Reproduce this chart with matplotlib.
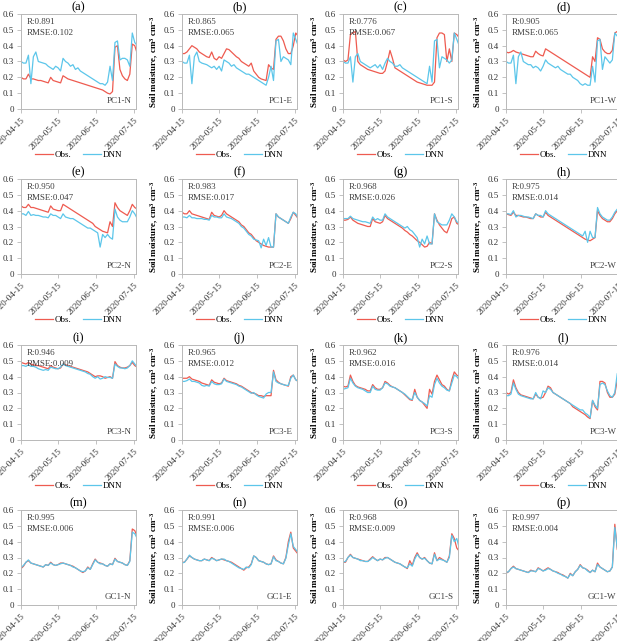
import matplotlib
matplotlib.use("Agg")
from matplotlib import pyplot as plt
from matplotlib.lines import Line2D
import matplotlib.dates as mdates
import matplotlib.ticker as mticker
import pandas as pd

# fonts: Times-like serif, bold mathtext for the y label superscripts
plt.rcParams['font.family'] = ['Liberation Serif', 'DejaVu Serif']
plt.rcParams['mathtext.fontset'] = 'custom'
plt.rcParams['mathtext.rm'] = 'Liberation Serif'
plt.rcParams['mathtext.bf'] = 'Liberation Serif:bold'
plt.rcParams['mathtext.default'] = 'bf'

# sampled every 2 days from 2020-04-15
dates = pd.date_range('2020-04-15', periods=48, freq='2D')

a_obs = [0.20, 0.19, 0.19, 0.22, 0.19, 0.19, 0.185, 0.18,
         0.18, 0.175, 0.17, 0.165, 0.20, 0.18, 0.175, 0.17,
         0.165, 0.21, 0.20, 0.19, 0.185, 0.18, 0.175, 0.17,
         0.165, 0.16, 0.155, 0.15, 0.145, 0.14, 0.135, 0.13,
         0.125, 0.12, 0.11, 0.10, 0.095, 0.11, 0.39, 0.40,
         0.25, 0.21, 0.19, 0.18, 0.22, 0.41, 0.40, 0.35]
a_dnn = [0.30, 0.29, 0.29, 0.34, 0.16, 0.33, 0.36, 0.30,
         0.295, 0.29, 0.285, 0.27, 0.26, 0.25, 0.27, 0.26,
         0.24, 0.32, 0.30, 0.29, 0.27, 0.28, 0.25, 0.26,
         0.24, 0.23, 0.22, 0.21, 0.20, 0.19, 0.18, 0.17,
         0.16, 0.16, 0.15, 0.17, 0.27, 0.18, 0.42, 0.43,
         0.31, 0.32, 0.32, 0.31, 0.27, 0.48, 0.42, 0.40]
b_obs = [0.35, 0.35, 0.36, 0.38, 0.40, 0.39, 0.38, 0.36,
         0.35, 0.34, 0.33, 0.325, 0.36, 0.32, 0.31, 0.33,
         0.32, 0.35, 0.38, 0.375, 0.36, 0.345, 0.33, 0.32,
         0.30, 0.29, 0.28, 0.27, 0.29, 0.24, 0.22, 0.20,
         0.19, 0.185, 0.18, 0.28, 0.26, 0.25, 0.44, 0.46,
         0.46, 0.43, 0.38, 0.35, 0.35, 0.40, 0.48, 0.46]
b_dnn = [0.30, 0.29, 0.29, 0.34, 0.16, 0.33, 0.36, 0.30,
         0.29, 0.285, 0.28, 0.27, 0.26, 0.27, 0.25, 0.27,
         0.24, 0.31, 0.30, 0.29, 0.27, 0.28, 0.26, 0.25,
         0.24, 0.23, 0.22, 0.22, 0.21, 0.20, 0.19, 0.18,
         0.17, 0.16, 0.15, 0.20, 0.27, 0.18, 0.43, 0.44,
         0.30, 0.33, 0.32, 0.31, 0.28, 0.48, 0.44, 0.40]
c_obs = [0.31, 0.30, 0.31, 0.47, 0.48, 0.49, 0.30, 0.28,
         0.27, 0.26, 0.25, 0.245, 0.24, 0.235, 0.23, 0.225,
         0.225, 0.24, 0.30, 0.37, 0.32, 0.26, 0.25, 0.24,
         0.23, 0.22, 0.21, 0.20, 0.19, 0.18, 0.17, 0.165,
         0.16, 0.155, 0.15, 0.15, 0.15, 0.17, 0.45, 0.48,
         0.48, 0.47, 0.30, 0.38, 0.30, 0.48, 0.47, 0.45]
c_dnn = [0.30, 0.29, 0.29, 0.33, 0.17, 0.33, 0.35, 0.30,
         0.29, 0.28, 0.27, 0.26, 0.27, 0.28, 0.26, 0.28,
         0.25, 0.29, 0.32, 0.30, 0.29, 0.27, 0.27, 0.28,
         0.26, 0.25, 0.24, 0.23, 0.22, 0.21, 0.20, 0.19,
         0.18, 0.17, 0.16, 0.27, 0.17, 0.43, 0.44, 0.26,
         0.33, 0.32, 0.31, 0.29, 0.31, 0.48, 0.44, 0.40]
d_obs = [0.36, 0.355, 0.36, 0.37, 0.36, 0.355, 0.35, 0.345,
         0.34, 0.335, 0.33, 0.33, 0.365, 0.35, 0.34, 0.335,
         0.38, 0.37, 0.36, 0.35, 0.34, 0.33, 0.32, 0.31,
         0.30, 0.29, 0.28, 0.27, 0.26, 0.25, 0.24, 0.23,
         0.22, 0.21, 0.20, 0.33, 0.30, 0.45, 0.44, 0.38,
         0.36, 0.35, 0.35, 0.37, 0.48, 0.49, 0.48, 0.48]
d_dnn = [0.30, 0.29, 0.29, 0.34, 0.16, 0.33, 0.36, 0.30,
         0.29, 0.28, 0.28, 0.26, 0.27, 0.26, 0.24, 0.27,
         0.31, 0.29, 0.28, 0.27, 0.26, 0.27, 0.25, 0.24,
         0.23, 0.22, 0.22, 0.20, 0.19, 0.18, 0.16, 0.15,
         0.16, 0.15, 0.15, 0.27, 0.17, 0.43, 0.44, 0.25,
         0.33, 0.31, 0.29, 0.31, 0.48, 0.46, 0.45, 0.44]
e_obs = [0.43, 0.42, 0.42, 0.44, 0.42, 0.42, 0.415, 0.41,
         0.405, 0.40, 0.395, 0.39, 0.43, 0.41, 0.405, 0.40,
         0.40, 0.44, 0.43, 0.42, 0.41, 0.40, 0.39, 0.38,
         0.37, 0.36, 0.35, 0.34, 0.33, 0.32, 0.30, 0.29,
         0.28, 0.27, 0.265, 0.26, 0.33, 0.30, 0.45, 0.42,
         0.40, 0.39, 0.38, 0.37, 0.40, 0.44, 0.42, 0.41]
e_dnn = [0.38, 0.38, 0.37, 0.395, 0.37, 0.375, 0.37, 0.37,
         0.365, 0.36, 0.36, 0.355, 0.38, 0.37, 0.37, 0.36,
         0.35, 0.38, 0.36, 0.355, 0.35, 0.35, 0.34, 0.33,
         0.32, 0.31, 0.30, 0.29, 0.29, 0.28, 0.27, 0.26,
         0.17, 0.25, 0.23, 0.25, 0.23, 0.22, 0.41, 0.36,
         0.34, 0.33, 0.33, 0.33, 0.36, 0.40, 0.38, 0.35]
f_obs = [0.39, 0.38, 0.38, 0.40, 0.38, 0.375, 0.37, 0.365,
         0.36, 0.355, 0.35, 0.345, 0.39, 0.37, 0.365, 0.36,
         0.37, 0.40, 0.38, 0.37, 0.36, 0.35, 0.34, 0.33,
         0.31, 0.30, 0.28, 0.26, 0.25, 0.23, 0.21, 0.20,
         0.19, 0.18, 0.175, 0.17, 0.17, 0.17, 0.38, 0.36,
         0.35, 0.34, 0.33, 0.32, 0.35, 0.39, 0.37, 0.35]
f_dnn = [0.36, 0.36, 0.355, 0.37, 0.355, 0.355, 0.35, 0.35,
         0.35, 0.345, 0.345, 0.34, 0.37, 0.36, 0.36, 0.355,
         0.355, 0.38, 0.36, 0.355, 0.35, 0.34, 0.33, 0.32,
         0.30, 0.29, 0.27, 0.25, 0.24, 0.22, 0.215, 0.21,
         0.165, 0.22, 0.18, 0.23, 0.17, 0.17, 0.38, 0.36,
         0.35, 0.34, 0.33, 0.32, 0.36, 0.39, 0.38, 0.35]
g_obs = [0.34, 0.34, 0.345, 0.36, 0.34, 0.33, 0.32, 0.315,
         0.31, 0.305, 0.30, 0.30, 0.35, 0.33, 0.325, 0.32,
         0.33, 0.37, 0.35, 0.34, 0.33, 0.32, 0.31, 0.30,
         0.29, 0.275, 0.265, 0.25, 0.24, 0.225, 0.21, 0.20,
         0.185, 0.17, 0.175, 0.20, 0.19, 0.38, 0.34, 0.31,
         0.29, 0.27, 0.26, 0.30, 0.35, 0.36, 0.32, 0.31]
g_dnn = [0.35, 0.35, 0.35, 0.365, 0.35, 0.345, 0.34, 0.335,
         0.33, 0.33, 0.325, 0.32, 0.36, 0.34, 0.35, 0.34,
         0.34, 0.38, 0.36, 0.35, 0.34, 0.33, 0.32, 0.31,
         0.30, 0.29, 0.30, 0.28, 0.27, 0.25, 0.23, 0.17,
         0.22, 0.19, 0.24, 0.19, 0.19, 0.38, 0.33, 0.32,
         0.31, 0.31, 0.31, 0.34, 0.38, 0.36, 0.33, 0.32]
h_obs = [0.38, 0.375, 0.37, 0.39, 0.37, 0.37, 0.365, 0.36,
         0.36, 0.355, 0.35, 0.35, 0.38, 0.37, 0.36, 0.36,
         0.39, 0.37, 0.36, 0.35, 0.34, 0.33, 0.32, 0.31,
         0.30, 0.29, 0.28, 0.27, 0.26, 0.25, 0.24, 0.23,
         0.22, 0.215, 0.21, 0.22, 0.23, 0.40, 0.37, 0.35,
         0.34, 0.33, 0.33, 0.35, 0.38, 0.40, 0.38, 0.37]
h_dnn = [0.38, 0.38, 0.375, 0.40, 0.36, 0.37, 0.37, 0.365,
         0.36, 0.36, 0.355, 0.35, 0.38, 0.37, 0.37, 0.36,
         0.40, 0.38, 0.37, 0.36, 0.35, 0.34, 0.33, 0.32,
         0.31, 0.30, 0.29, 0.28, 0.27, 0.26, 0.25, 0.24,
         0.27, 0.20, 0.27, 0.23, 0.23, 0.42, 0.38, 0.36,
         0.35, 0.34, 0.34, 0.36, 0.39, 0.41, 0.40, 0.38]
i_obs = [0.49, 0.485, 0.48, 0.49, 0.48, 0.475, 0.47, 0.47,
         0.465, 0.46, 0.455, 0.45, 0.47, 0.46, 0.455, 0.45,
         0.455, 0.48, 0.475, 0.47, 0.465, 0.46, 0.455, 0.45,
         0.445, 0.44, 0.435, 0.43, 0.42, 0.41, 0.40, 0.405,
         0.405, 0.40, 0.39, 0.395, 0.40, 0.39, 0.495, 0.47,
         0.46, 0.455, 0.455, 0.46, 0.47, 0.49, 0.47, 0.46]
i_dnn = [0.47, 0.47, 0.465, 0.475, 0.465, 0.465, 0.46, 0.45,
         0.445, 0.44, 0.445, 0.44, 0.46, 0.455, 0.45, 0.45,
         0.46, 0.48, 0.47, 0.465, 0.46, 0.455, 0.45, 0.445,
         0.44, 0.435, 0.43, 0.42, 0.415, 0.40, 0.39, 0.40,
         0.385, 0.39, 0.40, 0.395, 0.395, 0.39, 0.48, 0.465,
         0.455, 0.455, 0.45, 0.455, 0.47, 0.50, 0.48, 0.46]
j_obs = [0.39, 0.39, 0.39, 0.40, 0.385, 0.38, 0.375, 0.37,
         0.36, 0.355, 0.35, 0.345, 0.38, 0.365, 0.36, 0.355,
         0.36, 0.39, 0.375, 0.37, 0.365, 0.36, 0.355, 0.345,
         0.34, 0.33, 0.32, 0.31, 0.30, 0.295, 0.29, 0.28,
         0.28, 0.275, 0.28, 0.28, 0.28, 0.44, 0.38, 0.365,
         0.355, 0.35, 0.345, 0.34, 0.40, 0.41, 0.38, 0.37]
j_dnn = [0.37, 0.37, 0.375, 0.385, 0.37, 0.37, 0.365, 0.36,
         0.345, 0.34, 0.345, 0.34, 0.37, 0.355, 0.35, 0.35,
         0.355, 0.385, 0.37, 0.365, 0.36, 0.355, 0.35, 0.34,
         0.335, 0.325, 0.315, 0.305, 0.295, 0.30, 0.285, 0.275,
         0.27, 0.265, 0.29, 0.30, 0.30, 0.43, 0.37, 0.36,
         0.355, 0.35, 0.345, 0.345, 0.39, 0.41, 0.38, 0.37]
k_obs = [0.34, 0.335, 0.34, 0.41, 0.37, 0.345, 0.335, 0.33,
         0.325, 0.32, 0.31, 0.31, 0.35, 0.33, 0.32, 0.32,
         0.33, 0.37, 0.36, 0.345, 0.335, 0.33, 0.32, 0.31,
         0.30, 0.285, 0.27, 0.255, 0.25, 0.32, 0.27, 0.25,
         0.24, 0.22, 0.20, 0.32, 0.29, 0.37, 0.41, 0.38,
         0.35, 0.34, 0.32, 0.31, 0.38, 0.43, 0.41, 0.40]
k_dnn = [0.32, 0.325, 0.33, 0.39, 0.36, 0.34, 0.33, 0.325,
         0.32, 0.31, 0.30, 0.30, 0.34, 0.32, 0.315, 0.315,
         0.33, 0.36, 0.355, 0.34, 0.335, 0.33, 0.32, 0.31,
         0.30, 0.29, 0.275, 0.26, 0.255, 0.30, 0.27, 0.25,
         0.24, 0.23, 0.215, 0.28, 0.27, 0.35, 0.39, 0.36,
         0.34, 0.33, 0.315, 0.31, 0.36, 0.41, 0.40, 0.38]
l_obs = [0.30, 0.29, 0.30, 0.38, 0.33, 0.30, 0.285, 0.28,
         0.275, 0.27, 0.265, 0.26, 0.29, 0.27, 0.265, 0.27,
         0.30, 0.34, 0.33, 0.30, 0.29, 0.28, 0.27, 0.26,
         0.25, 0.24, 0.23, 0.21, 0.20, 0.19, 0.18, 0.17,
         0.16, 0.145, 0.135, 0.25, 0.21, 0.19, 0.37, 0.37,
         0.36, 0.30, 0.27, 0.27, 0.29, 0.38, 0.40, 0.40]
l_dnn = [0.28, 0.28, 0.29, 0.36, 0.32, 0.29, 0.28, 0.275,
         0.27, 0.265, 0.26, 0.26, 0.30, 0.27, 0.26, 0.31,
         0.30, 0.33, 0.32, 0.30, 0.29, 0.28, 0.27, 0.26,
         0.25, 0.24, 0.23, 0.22, 0.21, 0.20, 0.19, 0.19,
         0.17, 0.16, 0.14, 0.25, 0.22, 0.20, 0.35, 0.36,
         0.35, 0.31, 0.28, 0.27, 0.30, 0.42, 0.42, 0.41]
m_obs = [0.23, 0.245, 0.27, 0.28, 0.265, 0.26, 0.255, 0.25,
         0.245, 0.24, 0.255, 0.25, 0.27, 0.255, 0.25, 0.255,
         0.265, 0.265, 0.26, 0.255, 0.25, 0.245, 0.235, 0.225,
         0.215, 0.205, 0.215, 0.24, 0.225, 0.26, 0.29, 0.27,
         0.265, 0.26, 0.25, 0.245, 0.26, 0.255, 0.295, 0.275,
         0.27, 0.265, 0.255, 0.25, 0.28, 0.48, 0.47, 0.43]
m_dnn = [0.235, 0.25, 0.27, 0.285, 0.265, 0.26, 0.255, 0.25,
         0.245, 0.24, 0.255, 0.25, 0.265, 0.255, 0.25, 0.255,
         0.26, 0.265, 0.26, 0.255, 0.25, 0.24, 0.235, 0.225,
         0.215, 0.21, 0.215, 0.235, 0.225, 0.255, 0.285, 0.27,
         0.26, 0.26, 0.25, 0.245, 0.26, 0.255, 0.29, 0.275,
         0.27, 0.265, 0.255, 0.25, 0.275, 0.46, 0.45, 0.42]
n_obs = [0.27, 0.27, 0.29, 0.31, 0.30, 0.29, 0.285, 0.28,
         0.28, 0.29, 0.285, 0.28, 0.30, 0.29, 0.28, 0.285,
         0.29, 0.285, 0.28, 0.275, 0.27, 0.26, 0.25, 0.24,
         0.23, 0.22, 0.235, 0.24, 0.26, 0.31, 0.30, 0.28,
         0.275, 0.27, 0.26, 0.255, 0.26, 0.31, 0.285, 0.275,
         0.265, 0.26, 0.30, 0.40, 0.46, 0.36, 0.34, 0.32]
n_dnn = [0.265, 0.27, 0.29, 0.315, 0.30, 0.29, 0.285, 0.28,
         0.28, 0.29, 0.285, 0.28, 0.295, 0.29, 0.28, 0.285,
         0.29, 0.29, 0.28, 0.275, 0.265, 0.255, 0.245, 0.235,
         0.23, 0.225, 0.24, 0.235, 0.255, 0.31, 0.30, 0.28,
         0.275, 0.27, 0.26, 0.255, 0.26, 0.305, 0.28, 0.275,
         0.265, 0.26, 0.295, 0.38, 0.45, 0.37, 0.35, 0.33]
o_obs = [0.27, 0.27, 0.30, 0.32, 0.30, 0.295, 0.29, 0.285,
         0.28, 0.275, 0.275, 0.29, 0.305, 0.29, 0.28, 0.29,
         0.285, 0.30, 0.30, 0.29, 0.28, 0.27, 0.265, 0.26,
         0.25, 0.24, 0.23, 0.28, 0.25, 0.30, 0.33, 0.30,
         0.29, 0.30, 0.28, 0.265, 0.26, 0.33, 0.28, 0.30,
         0.29, 0.28, 0.27, 0.31, 0.45, 0.42, 0.36, 0.34]
o_dnn = [0.27, 0.275, 0.30, 0.315, 0.30, 0.295, 0.29, 0.28,
         0.28, 0.275, 0.275, 0.285, 0.30, 0.29, 0.28, 0.29,
         0.285, 0.295, 0.30, 0.29, 0.28, 0.27, 0.265, 0.26,
         0.25, 0.24, 0.235, 0.26, 0.245, 0.29, 0.32, 0.30,
         0.29, 0.295, 0.28, 0.265, 0.26, 0.32, 0.28, 0.29,
         0.285, 0.28, 0.27, 0.30, 0.44, 0.40, 0.42, 0.36]
p_obs = [0.20, 0.21, 0.23, 0.245, 0.23, 0.225, 0.22, 0.215,
         0.21, 0.205, 0.22, 0.215, 0.21, 0.235, 0.225, 0.215,
         0.225, 0.235, 0.225, 0.215, 0.21, 0.205, 0.195, 0.19,
         0.18, 0.17, 0.20, 0.185, 0.21, 0.225, 0.255, 0.235,
         0.23, 0.22, 0.205, 0.22, 0.21, 0.265, 0.24, 0.23,
         0.22, 0.21, 0.215, 0.24, 0.51, 0.35, 0.33, 0.32]
p_dnn = [0.205, 0.21, 0.23, 0.24, 0.23, 0.225, 0.22, 0.215,
         0.21, 0.205, 0.215, 0.215, 0.21, 0.23, 0.225, 0.215,
         0.22, 0.23, 0.225, 0.215, 0.21, 0.20, 0.195, 0.185,
         0.18, 0.17, 0.195, 0.185, 0.21, 0.225, 0.25, 0.235,
         0.23, 0.215, 0.205, 0.22, 0.21, 0.255, 0.24, 0.23,
         0.22, 0.21, 0.215, 0.24, 0.49, 0.36, 0.33, 0.32]

letters = 'abcdefghijklmnop'
sites = ['PC1-N', 'PC1-E', 'PC1-S', 'PC1-W',
         'PC2-N', 'PC2-E', 'PC2-S', 'PC2-W',
         'PC3-N', 'PC3-E', 'PC3-S', 'PC3-W',
         'GC1-N', 'GC1-E', 'GC1-S', 'GC1-W']
r_vals = ['0.891', '0.865', '0.776', '0.905',
          '0.950', '0.983', '0.968', '0.975',
          '0.946', '0.965', '0.962', '0.976',
          '0.995', '0.991', '0.968', '0.997']
rmse_vals = ['0.102', '0.065', '0.067', '0.065',
             '0.047', '0.017', '0.026', '0.014',
             '0.009', '0.012', '0.016', '0.014',
             '0.006', '0.006', '0.009', '0.004']
obs_all = [a_obs, b_obs, c_obs, d_obs, e_obs, f_obs, g_obs, h_obs,
           i_obs, j_obs, k_obs, l_obs, m_obs, n_obs, o_obs, p_obs]
dnn_all = [a_dnn, b_dnn, c_dnn, d_dnn, e_dnn, f_dnn, g_dnn, h_dnn,
           i_dnn, j_dnn, k_dnn, l_dnn, m_dnn, n_dnn, o_dnn, p_dnn]
xticks = ['2020-04-15', '2020-05-15', '2020-06-15', '2020-07-15']

obs_color = '#ee5b50'
dnn_color = '#5cc6ea'
grey = '#b8b8b8'

fig = plt.figure(figsize=(6.17, 6.41), dpi=100)
W, H = 617.0, 641.0
col_left = [21, 182, 343, 506]
row_top = [14, 179, 345, 510]
aw, ah = 115, 95

for k in range(16):
    r, c = divmod(k, 4)
    ax = fig.add_axes([col_left[c] / W, 1 - (row_top[r] + ah) / H, aw / W, ah / H])
    ax.plot(dates, obs_all[k], color=obs_color, lw=0.9)
    ax.plot(dates, dnn_all[k], color=dnn_color, lw=0.9)
    ax.set_ylim(0, 0.6)
    ax.set_xlim(pd.Timestamp('2020-04-15'), pd.Timestamp('2020-04-15') + pd.Timedelta(days=93))
    ax.yaxis.set_major_locator(mticker.MultipleLocator(0.1))
    ax.yaxis.set_major_formatter(mticker.FuncFormatter(lambda v, p: '0' if abs(v) < 1e-9 else '%.1f' % v))
    ax.set_xticks([pd.Timestamp(t) for t in xticks])
    ax.xaxis.set_major_formatter(mdates.DateFormatter('%Y-%m-%d'))
    plt.setp(ax.get_xticklabels(), rotation=45, ha='right', rotation_mode='anchor')
    ax.tick_params(labelsize=6.5, length=3, width=0.6, color=grey, labelcolor='#333333', pad=2)
    for s in ax.spines.values():
        s.set_color(grey)
        s.set_linewidth(0.7)
    ax.set_title('(%s)' % letters[k], fontsize=9, pad=3)
    ax.set_ylabel(r'Soil moisture, cm$^{3}$ cm$^{-3}$', fontsize=6.5, fontweight='bold', labelpad=2)
    ax.text(0.05, 0.96, 'R:%s\nRMSE:%s' % (r_vals[k], rmse_vals[k]), transform=ax.transAxes,
            ha='left', va='top', fontsize=6.5, color='#404040', linespacing=1.5)
    ax.text(0.96, 0.04, sites[k], transform=ax.transAxes, ha='right', va='bottom',
            fontsize=6.5, color='#404040')
    handles = [Line2D([], [], color=obs_color, lw=0.9), Line2D([], [], color=dnn_color, lw=0.9)]
    ax.legend(handles, ['Obs.', 'DNN'], loc='center', bbox_to_anchor=(0.5, -0.48), ncol=2,
              frameon=False, fontsize=6.5, handlelength=2.0, columnspacing=1.2, handletextpad=0.2)

fig.savefig('out.png', dpi=100)
